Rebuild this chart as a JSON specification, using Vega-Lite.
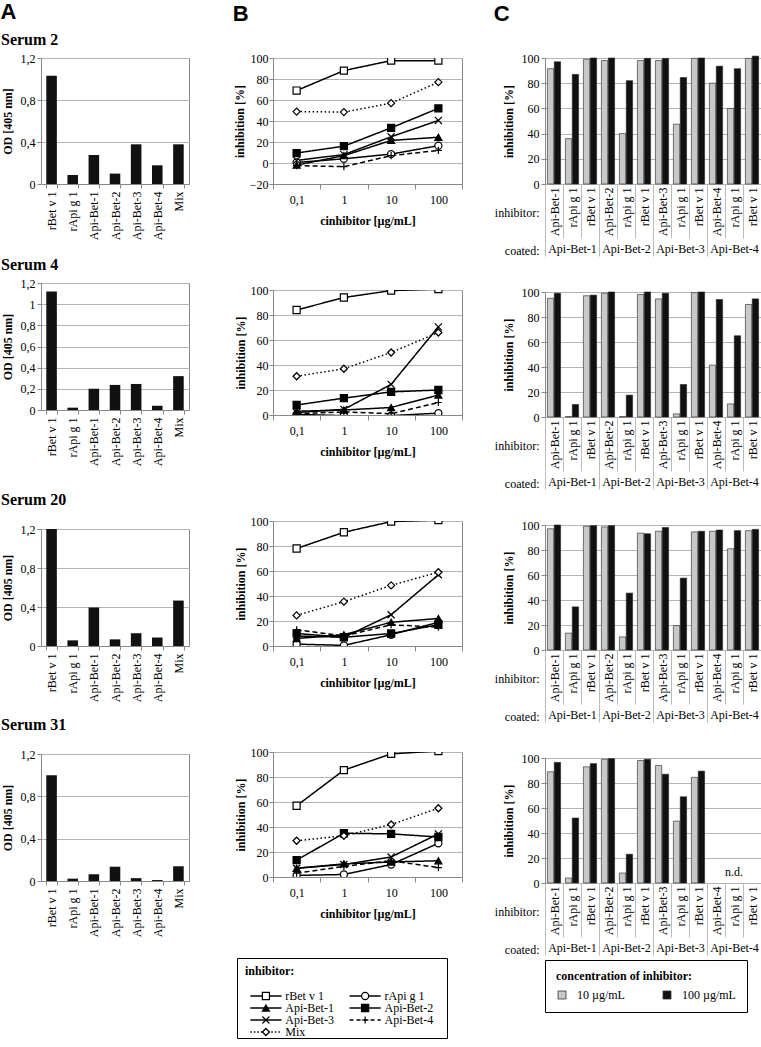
{
  "$schema": "https://vega.github.io/schema/vega-lite/v6.json",
  "padding": {"left": 0, "top": 0, "right": 0, "bottom": 0},
  "autosize": {"type": "pad"},
  "config": {
    "font": "Liberation Serif",
    "view": {"stroke": "#888", "strokeWidth": 1},
    "axis": {"labelFont": "Liberation Serif", "labelFontSize": 12, "labelColor": "#000", "titleFont": "Liberation Serif", "titleFontSize": 12, "titleFontWeight": "bold", "titleColor": "#000", "domainColor": "#888", "tickColor": "#888", "gridColor": "#b4b4b4", "tickSize": 4},
    "title": {"font": "Liberation Serif", "color": "#000"},
    "legend": {"labelFont": "Liberation Serif", "titleFont": "Liberation Serif", "labelColor": "#000", "titleColor": "#000"},
    "locale": {"number": {"decimal": ",", "thousands": ".", "grouping": [3], "currency": ["", " €"]}}
  },
  "datasets": {
    "od": [
      {"s": 2, "a": "rBet v 1", "od": 1.03}, {"s": 2, "a": "rApi g 1", "od": 0.086}, {"s": 2, "a": "Api-Bet-1", "od": 0.276}, {"s": 2, "a": "Api-Bet-2", "od": 0.099}, {"s": 2, "a": "Api-Bet-3", "od": 0.378}, {"s": 2, "a": "Api-Bet-4", "od": 0.178}, {"s": 2, "a": "Mix", "od": 0.378},
      {"s": 4, "a": "rBet v 1", "od": 1.12}, {"s": 4, "a": "rApi g 1", "od": 0.022}, {"s": 4, "a": "Api-Bet-1", "od": 0.2}, {"s": 4, "a": "Api-Bet-2", "od": 0.237}, {"s": 4, "a": "Api-Bet-3", "od": 0.246}, {"s": 4, "a": "Api-Bet-4", "od": 0.04}, {"s": 4, "a": "Mix", "od": 0.32},
      {"s": 20, "a": "rBet v 1", "od": 1.2}, {"s": 20, "a": "rApi g 1", "od": 0.058}, {"s": 20, "a": "Api-Bet-1", "od": 0.394}, {"s": 20, "a": "Api-Bet-2", "od": 0.068}, {"s": 20, "a": "Api-Bet-3", "od": 0.131}, {"s": 20, "a": "Api-Bet-4", "od": 0.087}, {"s": 20, "a": "Mix", "od": 0.466},
      {"s": 31, "a": "rBet v 1", "od": 1.0}, {"s": 31, "a": "rApi g 1", "od": 0.022}, {"s": 31, "a": "Api-Bet-1", "od": 0.063}, {"s": 31, "a": "Api-Bet-2", "od": 0.135}, {"s": 31, "a": "Api-Bet-3", "od": 0.027}, {"s": 31, "a": "Api-Bet-4", "od": 0.009}, {"s": 31, "a": "Mix", "od": 0.139}
    ],
    "inh": [
      {"s": 2, "series": "rBet v 1", "0,1": 69, "1": 88, "10": 97.5, "100": 97.5},
      {"s": 2, "series": "rApi g 1", "0,1": 0.5, "1": 4, "10": 8.5, "100": 16.5},
      {"s": 2, "series": "Api-Bet-1", "0,1": -2, "1": 7, "10": 21.5, "100": 24.5},
      {"s": 2, "series": "Api-Bet-2", "0,1": 9.5, "1": 16, "10": 33.5, "100": 52},
      {"s": 2, "series": "Api-Bet-3", "0,1": 2.5, "1": 8, "10": 25, "100": 40.5},
      {"s": 2, "series": "Api-Bet-4", "0,1": -2.5, "1": -3.5, "10": 7, "100": 12},
      {"s": 2, "series": "Mix", "0,1": 49, "1": 48.5, "10": 57, "100": 77},
      {"s": 4, "series": "rBet v 1", "0,1": 84, "1": 94, "10": 99.5, "100": 100.8},
      {"s": 4, "series": "rApi g 1", "0,1": 0.5, "1": -0.5, "10": -0.5, "100": 1.5},
      {"s": 4, "series": "Api-Bet-1", "0,1": 3, "1": 4, "10": 6, "100": 16},
      {"s": 4, "series": "Api-Bet-2", "0,1": 8, "1": 13.5, "10": 18.5, "100": 20},
      {"s": 4, "series": "Api-Bet-3", "0,1": 2, "1": 4.5, "10": 24.5, "100": 70.5},
      {"s": 4, "series": "Api-Bet-4", "0,1": 1, "1": 2.5, "10": 1, "100": 10},
      {"s": 4, "series": "Mix", "0,1": 31, "1": 37, "10": 50, "100": 66},
      {"s": 20, "series": "rBet v 1", "0,1": 78, "1": 91, "10": 99.5, "100": 100.8},
      {"s": 20, "series": "rApi g 1", "0,1": 1.5, "1": 0.5, "10": 9, "100": 19},
      {"s": 20, "series": "Api-Bet-1", "0,1": 6, "1": 9, "10": 19, "100": 22},
      {"s": 20, "series": "Api-Bet-2", "0,1": 10, "1": 7, "10": 10, "100": 17},
      {"s": 20, "series": "Api-Bet-3", "0,1": 8, "1": 7, "10": 25, "100": 57},
      {"s": 20, "series": "Api-Bet-4", "0,1": 13, "1": 8, "10": 17, "100": 15},
      {"s": 20, "series": "Mix", "0,1": 24.5, "1": 35.5, "10": 48.5, "100": 59},
      {"s": 31, "series": "rBet v 1", "0,1": 57, "1": 85.5, "10": 98.5, "100": 100.8},
      {"s": 31, "series": "rApi g 1", "0,1": 1.3, "1": 2, "10": 10, "100": 27},
      {"s": 31, "series": "Api-Bet-1", "0,1": 7, "1": 10.5, "10": 12, "100": 13},
      {"s": 31, "series": "Api-Bet-2", "0,1": 13.5, "1": 35, "10": 34.5, "100": 32},
      {"s": 31, "series": "Api-Bet-3", "0,1": 7, "1": 10, "10": 16, "100": 34.5},
      {"s": 31, "series": "Api-Bet-4", "0,1": 3, "1": 8.5, "10": 13, "100": 7.5},
      {"s": 31, "series": "Mix", "0,1": 29, "1": 33, "10": 42, "100": 55}
    ],
    "cross": [
      {"s": 2, "cell": "B1 Api-Bet-1", "10 µg/mL": 91.5, "100 µg/mL": 97},
      {"s": 2, "cell": "B1 rApi g 1", "10 µg/mL": 36, "100 µg/mL": 87},
      {"s": 2, "cell": "B1 rBet v 1", "10 µg/mL": 99, "100 µg/mL": 100},
      {"s": 2, "cell": "B2 Api-Bet-2", "10 µg/mL": 98, "100 µg/mL": 100},
      {"s": 2, "cell": "B2 rApi g 1", "10 µg/mL": 40, "100 µg/mL": 82},
      {"s": 2, "cell": "B2 rBet v 1", "10 µg/mL": 98, "100 µg/mL": 99.7},
      {"s": 2, "cell": "B3 Api-Bet-3", "10 µg/mL": 98, "100 µg/mL": 99.7},
      {"s": 2, "cell": "B3 rApi g 1", "10 µg/mL": 47.5, "100 µg/mL": 84.5},
      {"s": 2, "cell": "B3 rBet v 1", "10 µg/mL": 99.7, "100 µg/mL": 100},
      {"s": 2, "cell": "B4 Api-Bet-4", "10 µg/mL": 80, "100 µg/mL": 93.5},
      {"s": 2, "cell": "B4 rApi g 1", "10 µg/mL": 60, "100 µg/mL": 91.5},
      {"s": 2, "cell": "B4 rBet v 1", "10 µg/mL": 99.7, "100 µg/mL": 101.5},
      {"s": 4, "cell": "B1 Api-Bet-1", "10 µg/mL": 95, "100 µg/mL": 99},
      {"s": 4, "cell": "B1 rApi g 1", "10 µg/mL": 0.3, "100 µg/mL": 10},
      {"s": 4, "cell": "B1 rBet v 1", "10 µg/mL": 97, "100 µg/mL": 97.5},
      {"s": 4, "cell": "B2 Api-Bet-2", "10 µg/mL": 99, "100 µg/mL": 100},
      {"s": 4, "cell": "B2 rApi g 1", "10 µg/mL": 0.3, "100 µg/mL": 17.5},
      {"s": 4, "cell": "B2 rBet v 1", "10 µg/mL": 98, "100 µg/mL": 100},
      {"s": 4, "cell": "B3 Api-Bet-3", "10 µg/mL": 94.5, "100 µg/mL": 99},
      {"s": 4, "cell": "B3 rApi g 1", "10 µg/mL": 2.5, "100 µg/mL": 26},
      {"s": 4, "cell": "B3 rBet v 1", "10 µg/mL": 99.5, "100 µg/mL": 100},
      {"s": 4, "cell": "B4 Api-Bet-4", "10 µg/mL": 41.5, "100 µg/mL": 94},
      {"s": 4, "cell": "B4 rApi g 1", "10 µg/mL": 10.5, "100 µg/mL": 65},
      {"s": 4, "cell": "B4 rBet v 1", "10 µg/mL": 90, "100 µg/mL": 94.5},
      {"s": 20, "cell": "B1 Api-Bet-1", "10 µg/mL": 97, "100 µg/mL": 100},
      {"s": 20, "cell": "B1 rApi g 1", "10 µg/mL": 13.5, "100 µg/mL": 34.5},
      {"s": 20, "cell": "B1 rBet v 1", "10 µg/mL": 99, "100 µg/mL": 99.5},
      {"s": 20, "cell": "B2 Api-Bet-2", "10 µg/mL": 98.5, "100 µg/mL": 99.5},
      {"s": 20, "cell": "B2 rApi g 1", "10 µg/mL": 10.5, "100 µg/mL": 45.5},
      {"s": 20, "cell": "B2 rBet v 1", "10 µg/mL": 93.5, "100 µg/mL": 93},
      {"s": 20, "cell": "B3 Api-Bet-3", "10 µg/mL": 95, "100 µg/mL": 98},
      {"s": 20, "cell": "B3 rApi g 1", "10 µg/mL": 19.5, "100 µg/mL": 57.5},
      {"s": 20, "cell": "B3 rBet v 1", "10 µg/mL": 94.5, "100 µg/mL": 95},
      {"s": 20, "cell": "B4 Api-Bet-4", "10 µg/mL": 95, "100 µg/mL": 96},
      {"s": 20, "cell": "B4 rApi g 1", "10 µg/mL": 81, "100 µg/mL": 95.5},
      {"s": 20, "cell": "B4 rBet v 1", "10 µg/mL": 95.5, "100 µg/mL": 96.5},
      {"s": 31, "cell": "B1 Api-Bet-1", "10 µg/mL": 89, "100 µg/mL": 96.5},
      {"s": 31, "cell": "B1 rApi g 1", "10 µg/mL": 4, "100 µg/mL": 52},
      {"s": 31, "cell": "B1 rBet v 1", "10 µg/mL": 93, "100 µg/mL": 95.5},
      {"s": 31, "cell": "B2 Api-Bet-2", "10 µg/mL": 99, "100 µg/mL": 99.5},
      {"s": 31, "cell": "B2 rApi g 1", "10 µg/mL": 8, "100 µg/mL": 23},
      {"s": 31, "cell": "B2 rBet v 1", "10 µg/mL": 98, "100 µg/mL": 99},
      {"s": 31, "cell": "B3 Api-Bet-3", "10 µg/mL": 94, "100 µg/mL": 87},
      {"s": 31, "cell": "B3 rApi g 1", "10 µg/mL": 49.5, "100 µg/mL": 69},
      {"s": 31, "cell": "B3 rBet v 1", "10 µg/mL": 84.5, "100 µg/mL": 89.5}
    ],
    "notes": [{"s": 31, "cell": "B4 rApi g 1", "note": "n.d.", "value": 9}],
    "groups": [{"coated": "Api-Bet-1"}, {"coated": "Api-Bet-2"}, {"coated": "Api-Bet-3"}, {"coated": "Api-Bet-4"}],
    "concs": [{"conc": "10 µg/mL"}, {"conc": "100 µg/mL"}],
    "series": [{"series": "rBet v 1"}, {"series": "rApi g 1"}, {"series": "Api-Bet-1"}, {"series": "Api-Bet-2"}, {"series": "Api-Bet-3"}, {"series": "Api-Bet-4"}, {"series": "Mix"}]
  },
  "spacing": 42,
  "resolve": {"scale": {"color": "independent", "fill": "independent", "shape": "independent", "strokeDash": "independent"}},
  "hconcat": [
    {
      "title": {"text": "A", "font": "Liberation Sans", "fontSize": 22, "fontWeight": "bold", "anchor": "start", "frame": "bounds", "offset": 8},
      "spacing": 24,
      "vconcat": [
        {"spacing": 15, "vconcat": [
          {"title": {"text": "Serum 2", "anchor": "start", "frame": "bounds", "fontSize": 16, "fontWeight": "bold", "offset": 4}, "width": 148, "height": 126, "data": {"name": "od"}, "transform": [{"filter": "datum.s == 2"}], "mark": {"type": "bar", "color": "#111"},
           "encoding": {"x": {"field": "a", "type": "nominal", "scale": {"domain": ["rBet v 1", "rApi g 1", "Api-Bet-1", "Api-Bet-2", "Api-Bet-3", "Api-Bet-4", "Mix"], "paddingInner": 0.5, "paddingOuter": 0.25}, "axis": {"title": null, "labelAngle": -90, "labelAlign": "right", "labelBaseline": "middle", "tickBand": "extent", "labelPadding": 3}},
                        "y": {"field": "od", "type": "quantitative", "scale": {"domain": [0, 1.2], "nice": false}, "axis": {"title": "OD [405 nm]", "values": [0, 0.4, 0.8, 1.2], "format": ".1~f", "titlePadding": 6}}}},
          {"title": {"text": "Serum 4", "anchor": "start", "frame": "bounds", "fontSize": 16, "fontWeight": "bold", "offset": 4}, "width": 148, "height": 127, "data": {"name": "od"}, "transform": [{"filter": "datum.s == 4"}], "mark": {"type": "bar", "color": "#111"},
           "encoding": {"x": {"field": "a", "type": "nominal", "scale": {"domain": ["rBet v 1", "rApi g 1", "Api-Bet-1", "Api-Bet-2", "Api-Bet-3", "Api-Bet-4", "Mix"], "paddingInner": 0.5, "paddingOuter": 0.25}, "axis": {"title": null, "labelAngle": -90, "labelAlign": "right", "labelBaseline": "middle", "tickBand": "extent", "labelPadding": 3}},
                        "y": {"field": "od", "type": "quantitative", "scale": {"domain": [0, 1.2], "nice": false}, "axis": {"title": "OD [405 nm]", "values": [0, 0.2, 0.4, 0.6, 0.8, 1, 1.2], "format": ".1~f", "titlePadding": 6}}}}
        ]},
        {"spacing": 13, "vconcat": [
          {"title": {"text": "Serum 20", "anchor": "start", "frame": "bounds", "fontSize": 16, "fontWeight": "bold", "offset": 15}, "width": 148, "height": 117, "data": {"name": "od"}, "transform": [{"filter": "datum.s == 20"}], "mark": {"type": "bar", "color": "#111"},
           "encoding": {"x": {"field": "a", "type": "nominal", "scale": {"domain": ["rBet v 1", "rApi g 1", "Api-Bet-1", "Api-Bet-2", "Api-Bet-3", "Api-Bet-4", "Mix"], "paddingInner": 0.5, "paddingOuter": 0.25}, "axis": {"title": null, "labelAngle": -90, "labelAlign": "right", "labelBaseline": "middle", "tickBand": "extent", "labelPadding": 3}},
                        "y": {"field": "od", "type": "quantitative", "scale": {"domain": [0, 1.2], "nice": false}, "axis": {"title": "OD [405 nm]", "values": [0, 0.4, 0.8, 1.2], "format": ".1~f", "titlePadding": 6}}}},
          {"title": {"text": "Serum 31", "anchor": "start", "frame": "bounds", "fontSize": 16, "fontWeight": "bold", "offset": 15}, "width": 148, "height": 127, "data": {"name": "od"}, "transform": [{"filter": "datum.s == 31"}], "mark": {"type": "bar", "color": "#111"},
           "encoding": {"x": {"field": "a", "type": "nominal", "scale": {"domain": ["rBet v 1", "rApi g 1", "Api-Bet-1", "Api-Bet-2", "Api-Bet-3", "Api-Bet-4", "Mix"], "paddingInner": 0.5, "paddingOuter": 0.25}, "axis": {"title": null, "labelAngle": -90, "labelAlign": "right", "labelBaseline": "middle", "tickBand": "extent", "labelPadding": 3}},
                        "y": {"field": "od", "type": "quantitative", "scale": {"domain": [0, 1.2], "nice": false}, "axis": {"title": "OD [405 nm]", "values": [0, 0.4, 0.8, 1.2], "format": ".1~f", "titlePadding": 6}}}}
        ]}
      ]
    },
    {
      "spacing": 30,
      "resolve": {"scale": {"color": "independent", "fill": "independent", "shape": "independent", "strokeDash": "independent"}},
      "hconcat": [
        {
          "title": {"text": "B", "font": "Liberation Sans", "fontSize": 22, "fontWeight": "bold", "anchor": "start", "frame": "bounds", "offset": 26},
          "spacing": 56,
          "resolve": {"scale": {"fill": "independent", "shape": "independent", "strokeDash": "independent"}},
          "vconcat": [
            {"width": 189, "height": 126, "data": {"name": "inh"}, "transform": [{"filter": "datum.s == 2"}, {"fold": ["0,1", "1", "10", "100"], "as": ["c", "v"]}],
             "encoding": {"x": {"field": "c", "type": "ordinal", "bandPosition": 0.5, "scale": {"type": "band", "domain": ["0,1", "1", "10", "100"], "paddingInner": 0, "paddingOuter": 0}, "axis": {"title": "cinhibitor [µg/mL]", "labelAngle": 0, "tickBand": "extent", "tickSize": 5, "labelPadding": 5, "titlePadding": 10}},
                          "y": {"field": "v", "type": "quantitative", "scale": {"domain": [-20, 100], "nice": false}, "axis": {"title": "inhibition [%]", "values": [-20, 0, 20, 40, 60, 80, 100], "titlePadding": 3, "labelPadding": 1}}},
             "layer": [
               {"mark": {"type": "line", "color": "#000", "strokeWidth": 1.5, "clip": true}, "encoding": {"strokeDash": {"field": "series", "type": "nominal", "scale": {"domain": ["rBet v 1", "rApi g 1", "Api-Bet-1", "Api-Bet-2", "Api-Bet-3", "Api-Bet-4", "Mix"], "range": [[1, 0], [1, 0], [1, 0], [1, 0], [1, 0], [5, 3], [1.5, 2.5]]}, "legend": null}}},
               {"mark": {"type": "point", "filled": true, "stroke": "#000", "strokeWidth": 1.2, "size": 50, "opacity": 1, "clip": true}, "encoding": {"shape": {"field": "series", "type": "nominal", "scale": {"domain": ["rBet v 1", "rApi g 1", "Api-Bet-1", "Api-Bet-2", "Api-Bet-3", "Api-Bet-4", "Mix"], "range": ["square", "circle", "triangle-up", "square", "M-1,-1L1,1M-1,1L1,-1", "M-1,0H1M0,-1V1", "diamond"]}, "legend": null}, "fill": {"field": "series", "type": "nominal", "scale": {"domain": ["rBet v 1", "rApi g 1", "Api-Bet-1", "Api-Bet-2", "Api-Bet-3", "Api-Bet-4", "Mix"], "range": ["white", "white", "black", "black", "black", "black", "white"]}, "legend": null}}}
             ]},
            {"width": 189, "height": 125, "data": {"name": "inh"}, "transform": [{"filter": "datum.s == 4"}, {"fold": ["0,1", "1", "10", "100"], "as": ["c", "v"]}],
             "encoding": {"x": {"field": "c", "type": "ordinal", "bandPosition": 0.5, "scale": {"type": "band", "domain": ["0,1", "1", "10", "100"], "paddingInner": 0, "paddingOuter": 0}, "axis": {"title": "cinhibitor [µg/mL]", "labelAngle": 0, "tickBand": "extent", "tickSize": 5, "labelPadding": 5, "titlePadding": 10}},
                          "y": {"field": "v", "type": "quantitative", "scale": {"domain": [0, 100], "nice": false}, "axis": {"title": "inhibition [%]", "values": [0, 20, 40, 60, 80, 100], "titlePadding": 3, "labelPadding": 1}}},
             "layer": [
               {"mark": {"type": "line", "color": "#000", "strokeWidth": 1.5, "clip": true}, "encoding": {"strokeDash": {"field": "series", "type": "nominal", "scale": {"domain": ["rBet v 1", "rApi g 1", "Api-Bet-1", "Api-Bet-2", "Api-Bet-3", "Api-Bet-4", "Mix"], "range": [[1, 0], [1, 0], [1, 0], [1, 0], [1, 0], [5, 3], [1.5, 2.5]]}, "legend": null}}},
               {"mark": {"type": "point", "filled": true, "stroke": "#000", "strokeWidth": 1.2, "size": 50, "opacity": 1, "clip": true}, "encoding": {"shape": {"field": "series", "type": "nominal", "scale": {"domain": ["rBet v 1", "rApi g 1", "Api-Bet-1", "Api-Bet-2", "Api-Bet-3", "Api-Bet-4", "Mix"], "range": ["square", "circle", "triangle-up", "square", "M-1,-1L1,1M-1,1L1,-1", "M-1,0H1M0,-1V1", "diamond"]}, "legend": null}, "fill": {"field": "series", "type": "nominal", "scale": {"domain": ["rBet v 1", "rApi g 1", "Api-Bet-1", "Api-Bet-2", "Api-Bet-3", "Api-Bet-4", "Mix"], "range": ["white", "white", "black", "black", "black", "black", "white"]}, "legend": null}}}
             ]},
            {"width": 189, "height": 125, "data": {"name": "inh"}, "transform": [{"filter": "datum.s == 20"}, {"fold": ["0,1", "1", "10", "100"], "as": ["c", "v"]}],
             "encoding": {"x": {"field": "c", "type": "ordinal", "bandPosition": 0.5, "scale": {"type": "band", "domain": ["0,1", "1", "10", "100"], "paddingInner": 0, "paddingOuter": 0}, "axis": {"title": "cinhibitor [µg/mL]", "labelAngle": 0, "tickBand": "extent", "tickSize": 5, "labelPadding": 5, "titlePadding": 10}},
                          "y": {"field": "v", "type": "quantitative", "scale": {"domain": [0, 100], "nice": false}, "axis": {"title": "inhibition [%]", "values": [0, 20, 40, 60, 80, 100], "titlePadding": 3, "labelPadding": 1}}},
             "layer": [
               {"mark": {"type": "line", "color": "#000", "strokeWidth": 1.5, "clip": true}, "encoding": {"strokeDash": {"field": "series", "type": "nominal", "scale": {"domain": ["rBet v 1", "rApi g 1", "Api-Bet-1", "Api-Bet-2", "Api-Bet-3", "Api-Bet-4", "Mix"], "range": [[1, 0], [1, 0], [1, 0], [1, 0], [1, 0], [5, 3], [1.5, 2.5]]}, "legend": null}}},
               {"mark": {"type": "point", "filled": true, "stroke": "#000", "strokeWidth": 1.2, "size": 50, "opacity": 1, "clip": true}, "encoding": {"shape": {"field": "series", "type": "nominal", "scale": {"domain": ["rBet v 1", "rApi g 1", "Api-Bet-1", "Api-Bet-2", "Api-Bet-3", "Api-Bet-4", "Mix"], "range": ["square", "circle", "triangle-up", "square", "M-1,-1L1,1M-1,1L1,-1", "M-1,0H1M0,-1V1", "diamond"]}, "legend": null}, "fill": {"field": "series", "type": "nominal", "scale": {"domain": ["rBet v 1", "rApi g 1", "Api-Bet-1", "Api-Bet-2", "Api-Bet-3", "Api-Bet-4", "Mix"], "range": ["white", "white", "black", "black", "black", "black", "white"]}, "legend": null}}}
             ]},
            {
              "spacing": 35,
              "resolve": {"scale": {"fill": "independent", "shape": "independent", "strokeDash": "independent"}},
              "vconcat": [
                {"width": 189, "height": 125, "data": {"name": "inh"}, "transform": [{"filter": "datum.s == 31"}, {"fold": ["0,1", "1", "10", "100"], "as": ["c", "v"]}],
                 "encoding": {"x": {"field": "c", "type": "ordinal", "bandPosition": 0.5, "scale": {"type": "band", "domain": ["0,1", "1", "10", "100"], "paddingInner": 0, "paddingOuter": 0}, "axis": {"title": "cinhibitor [µg/mL]", "labelAngle": 0, "tickBand": "extent", "tickSize": 5, "labelPadding": 5, "titlePadding": 10}},
                              "y": {"field": "v", "type": "quantitative", "scale": {"domain": [0, 100], "nice": false}, "axis": {"title": "inhibition [%]", "values": [0, 20, 40, 60, 80, 100], "titlePadding": 3, "labelPadding": 1}}},
                 "layer": [
                   {"mark": {"type": "line", "color": "#000", "strokeWidth": 1.5, "clip": true}, "encoding": {"strokeDash": {"field": "series", "type": "nominal", "scale": {"domain": ["rBet v 1", "rApi g 1", "Api-Bet-1", "Api-Bet-2", "Api-Bet-3", "Api-Bet-4", "Mix"], "range": [[1, 0], [1, 0], [1, 0], [1, 0], [1, 0], [5, 3], [1.5, 2.5]]}, "legend": null}}},
                   {"mark": {"type": "point", "filled": true, "stroke": "#000", "strokeWidth": 1.2, "size": 50, "opacity": 1, "clip": true}, "encoding": {"shape": {"field": "series", "type": "nominal", "scale": {"domain": ["rBet v 1", "rApi g 1", "Api-Bet-1", "Api-Bet-2", "Api-Bet-3", "Api-Bet-4", "Mix"], "range": ["square", "circle", "triangle-up", "square", "M-1,-1L1,1M-1,1L1,-1", "M-1,0H1M0,-1V1", "diamond"]}, "legend": null}, "fill": {"field": "series", "type": "nominal", "scale": {"domain": ["rBet v 1", "rApi g 1", "Api-Bet-1", "Api-Bet-2", "Api-Bet-3", "Api-Bet-4", "Mix"], "range": ["white", "white", "black", "black", "black", "black", "white"]}, "legend": null}}}
                 ]},
                {"bounds": "flush", "spacing": 31,
                 "resolve": {"scale": {"fill": "independent", "shape": "independent", "strokeDash": "independent"}},
                 "vconcat": [
                  {"width": 189, "height": 1, "view": {"stroke": "transparent"}, "data": {"name": "series"}, "mark": {"type": "point", "opacity": 0},
                   "encoding": {
                     "shape": {"field": "series", "type": "nominal",
                       "scale": {"domain": ["rBet v 1", "rApi g 1", "Api-Bet-1", "Api-Bet-2", "Api-Bet-3", "Api-Bet-4", "Mix"], "range": ["square", "circle", "triangle-up", "square", "cross", "cross", "diamond"]},
                       "legend": {"title": "inhibitor:", "orient": "none", "legendX": -36, "legendY": 0, "direction": "horizontal", "columns": 2, "symbolSize": 49, "symbolOffset": 13, "labelOffset": 15, "symbolOpacity": 0, "labelColor": "transparent", "labelFontSize": 12, "titleFontSize": 12, "titleFontWeight": "bold", "strokeColor": "#000", "fillColor": "#fff", "padding": 8, "columnPadding": 16, "rowPadding": -3, "titlePadding": 4}}
                   }},
                  {"width": 189, "height": 48, "view": {"stroke": null},
                   "resolve": {"scale": {"y": "independent"}},
                   "layer": [
                     {"data": {"name": "series"}, "transform": [{"filter": {"field": "series", "oneOf": ["rBet v 1", "Api-Bet-1", "Api-Bet-3", "Mix"]}}],
                      "encoding": {"y": {"field": "series", "type": "nominal", "bandPosition": 0.5, "scale": {"domain": ["rBet v 1", "Api-Bet-1", "Api-Bet-3", "Mix"], "paddingInner": 0, "paddingOuter": 0}, "axis": null}},
                      "layer": [
                        {"mark": {"type": "rule", "color": "#000", "strokeWidth": 1.3},
                         "encoding": {"x": {"datum": -24, "type": "quantitative", "scale": {"domain": [0, 189]}, "axis": null}, "x2": {"datum": 9},
                                      "strokeDash": {"field": "series", "type": "nominal", "scale": {"domain": ["rBet v 1", "rApi g 1", "Api-Bet-1", "Api-Bet-2", "Api-Bet-3", "Api-Bet-4", "Mix"], "range": [[1, 0], [1, 0], [1, 0], [1, 0], [1, 0], [4, 3], [1.5, 2]]}, "legend": null}}},
                        {"mark": {"type": "point", "filled": true, "stroke": "#000", "strokeWidth": 1.2, "size": 50, "opacity": 1},
                         "encoding": {"x": {"datum": -7.5, "type": "quantitative"},
                                      "shape": {"field": "series", "type": "nominal", "scale": {"domain": ["rBet v 1", "rApi g 1", "Api-Bet-1", "Api-Bet-2", "Api-Bet-3", "Api-Bet-4", "Mix"], "range": ["square", "circle", "triangle-up", "square", "M-1,-1L1,1M-1,1L1,-1", "M-1,0H1M0,-1V1", "diamond"]}, "legend": null},
                                      "fill": {"field": "series", "type": "nominal", "scale": {"domain": ["rBet v 1", "rApi g 1", "Api-Bet-1", "Api-Bet-2", "Api-Bet-3", "Api-Bet-4", "Mix"], "range": ["white", "white", "black", "black", "black", "black", "white"]}, "legend": null}}},
                        {"mark": {"type": "text", "align": "left", "baseline": "middle", "fontSize": 12, "font": "Liberation Serif", "color": "#000"},
                         "encoding": {"x": {"datum": 13, "type": "quantitative"}, "text": {"field": "series"}}}
                      ]},
                     {"data": {"name": "series"}, "transform": [{"filter": {"field": "series", "oneOf": ["rApi g 1", "Api-Bet-2", "Api-Bet-4"]}}],
                      "encoding": {"y": {"field": "series", "type": "nominal", "bandPosition": 0.5, "scale": {"domain": ["rApi g 1", "Api-Bet-2", "Api-Bet-4", " "], "paddingInner": 0, "paddingOuter": 0}, "axis": null}},
                      "layer": [
                        {"mark": {"type": "rule", "color": "#000", "strokeWidth": 1.3},
                         "encoding": {"x": {"datum": 81, "type": "quantitative"}, "x2": {"datum": 114},
                                      "strokeDash": {"field": "series", "type": "nominal", "scale": {"domain": ["rBet v 1", "rApi g 1", "Api-Bet-1", "Api-Bet-2", "Api-Bet-3", "Api-Bet-4", "Mix"], "range": [[1, 0], [1, 0], [1, 0], [1, 0], [1, 0], [4, 3], [1.5, 2]]}, "legend": null}}},
                        {"mark": {"type": "point", "filled": true, "stroke": "#000", "strokeWidth": 1.2, "size": 50, "opacity": 1},
                         "encoding": {"x": {"datum": 97.5, "type": "quantitative"},
                                      "shape": {"field": "series", "type": "nominal", "scale": {"domain": ["rBet v 1", "rApi g 1", "Api-Bet-1", "Api-Bet-2", "Api-Bet-3", "Api-Bet-4", "Mix"], "range": ["square", "circle", "triangle-up", "square", "M-1,-1L1,1M-1,1L1,-1", "M-1,0H1M0,-1V1", "diamond"]}, "legend": null},
                                      "fill": {"field": "series", "type": "nominal", "scale": {"domain": ["rBet v 1", "rApi g 1", "Api-Bet-1", "Api-Bet-2", "Api-Bet-3", "Api-Bet-4", "Mix"], "range": ["white", "white", "black", "black", "black", "black", "white"]}, "legend": null}}},
                        {"mark": {"type": "text", "align": "left", "baseline": "middle", "fontSize": 12, "font": "Liberation Serif", "color": "#000"},
                         "encoding": {"x": {"datum": 118, "type": "quantitative"}, "text": {"field": "series"}}}
                      ]}
                   ]}
                 ]}
              ]
            }
          ]
        },
        {
          "title": {"text": "C", "font": "Liberation Sans", "fontSize": 22, "fontWeight": "bold", "anchor": "start", "frame": "bounds", "offset": 26},
          "spacing": 28,
          "resolve": {"scale": {"color": "independent"}},
          "vconcat": [
            {"bounds": "flush", "spacing": 53, "resolve": {"scale": {"color": "independent"}}, "vconcat": [
              {"width": 216, "height": 126, "data": {"name": "cross"}, "transform": [{"filter": "datum.s == 2"}, {"fold": ["10 µg/mL", "100 µg/mL"], "as": ["conc", "value"]}],
               "mark": {"type": "bar", "stroke": "#222", "strokeWidth": 0.6},
               "encoding": {
                 "x": {"field": "cell", "type": "nominal", "scale": {"domain": ["B1 Api-Bet-1", "B1 rApi g 1", "B1 rBet v 1", "B2 Api-Bet-2", "B2 rApi g 1", "B2 rBet v 1", "B3 Api-Bet-3", "B3 rApi g 1", "B3 rBet v 1", "B4 Api-Bet-4", "B4 rApi g 1", "B4 rBet v 1"], "paddingInner": 0, "paddingOuter": 0},
                       "axis": {"title": "inhibitor:", "titleAngle": 0, "titleX": -6, "titleY": 28, "titleAlign": "right", "titleBaseline": "middle", "titleFontWeight": "normal", "labelExpr": "substring(datum.label, 3)", "labelAngle": -90, "labelAlign": "right", "labelBaseline": "middle", "tickBand": "extent", "tickSize": 54, "tickColor": "#bbb", "domain": false, "labelPadding": -51}},
                 "xOffset": {"field": "conc", "type": "nominal", "scale": {"domain": ["10 µg/mL", "100 µg/mL"], "paddingInner": 0.08, "paddingOuter": 0.35}},
                 "y": {"field": "value", "type": "quantitative", "scale": {"domain": [0, 100], "nice": false}, "axis": {"title": "inhibition [%]", "values": [0, 20, 40, 60, 80, 100], "titlePadding": 6}},
                 "color": {"field": "conc", "type": "nominal", "scale": {"domain": ["10 µg/mL", "100 µg/mL"], "range": ["#c8c8c8", "#111"]}, "legend": null}
               }},
              {"width": 216, "height": 1, "view": {"stroke": null}, "data": {"name": "groups"}, "mark": {"type": "text", "text": ""},
               "encoding": {"x": {"field": "coated", "type": "nominal", "scale": {"domain": ["Api-Bet-1", "Api-Bet-2", "Api-Bet-3", "Api-Bet-4"], "paddingInner": 0, "paddingOuter": 0},
                 "axis": {"orient": "bottom", "title": "coated:", "titleAngle": 0, "titleX": -6, "titleY": 12, "titleAlign": "right", "titleBaseline": "middle", "titleFontWeight": "normal", "labelAngle": 0, "tickBand": "extent", "tickSize": 18, "tickColor": "#bbb", "domain": false, "labelPadding": -13}}}}
            ]},
            {"bounds": "flush", "spacing": 53, "resolve": {"scale": {"color": "independent"}}, "vconcat": [
              {"width": 216, "height": 125, "data": {"name": "cross"}, "transform": [{"filter": "datum.s == 4"}, {"fold": ["10 µg/mL", "100 µg/mL"], "as": ["conc", "value"]}],
               "mark": {"type": "bar", "stroke": "#222", "strokeWidth": 0.6},
               "encoding": {
                 "x": {"field": "cell", "type": "nominal", "scale": {"domain": ["B1 Api-Bet-1", "B1 rApi g 1", "B1 rBet v 1", "B2 Api-Bet-2", "B2 rApi g 1", "B2 rBet v 1", "B3 Api-Bet-3", "B3 rApi g 1", "B3 rBet v 1", "B4 Api-Bet-4", "B4 rApi g 1", "B4 rBet v 1"], "paddingInner": 0, "paddingOuter": 0},
                       "axis": {"title": "inhibitor:", "titleAngle": 0, "titleX": -6, "titleY": 28, "titleAlign": "right", "titleBaseline": "middle", "titleFontWeight": "normal", "labelExpr": "substring(datum.label, 3)", "labelAngle": -90, "labelAlign": "right", "labelBaseline": "middle", "tickBand": "extent", "tickSize": 54, "tickColor": "#bbb", "domain": false, "labelPadding": -51}},
                 "xOffset": {"field": "conc", "type": "nominal", "scale": {"domain": ["10 µg/mL", "100 µg/mL"], "paddingInner": 0.08, "paddingOuter": 0.35}},
                 "y": {"field": "value", "type": "quantitative", "scale": {"domain": [0, 100], "nice": false}, "axis": {"title": "inhibition [%]", "values": [0, 20, 40, 60, 80, 100], "titlePadding": 6}},
                 "color": {"field": "conc", "type": "nominal", "scale": {"domain": ["10 µg/mL", "100 µg/mL"], "range": ["#c8c8c8", "#111"]}, "legend": null}
               }},
              {"width": 216, "height": 1, "view": {"stroke": null}, "data": {"name": "groups"}, "mark": {"type": "text", "text": ""},
               "encoding": {"x": {"field": "coated", "type": "nominal", "scale": {"domain": ["Api-Bet-1", "Api-Bet-2", "Api-Bet-3", "Api-Bet-4"], "paddingInner": 0, "paddingOuter": 0},
                 "axis": {"orient": "bottom", "title": "coated:", "titleAngle": 0, "titleX": -6, "titleY": 12, "titleAlign": "right", "titleBaseline": "middle", "titleFontWeight": "normal", "labelAngle": 0, "tickBand": "extent", "tickSize": 18, "tickColor": "#bbb", "domain": false, "labelPadding": -13}}}}
            ]},
            {"bounds": "flush", "spacing": 53, "resolve": {"scale": {"color": "independent"}}, "vconcat": [
              {"width": 216, "height": 125, "data": {"name": "cross"}, "transform": [{"filter": "datum.s == 20"}, {"fold": ["10 µg/mL", "100 µg/mL"], "as": ["conc", "value"]}],
               "mark": {"type": "bar", "stroke": "#222", "strokeWidth": 0.6},
               "encoding": {
                 "x": {"field": "cell", "type": "nominal", "scale": {"domain": ["B1 Api-Bet-1", "B1 rApi g 1", "B1 rBet v 1", "B2 Api-Bet-2", "B2 rApi g 1", "B2 rBet v 1", "B3 Api-Bet-3", "B3 rApi g 1", "B3 rBet v 1", "B4 Api-Bet-4", "B4 rApi g 1", "B4 rBet v 1"], "paddingInner": 0, "paddingOuter": 0},
                       "axis": {"title": "inhibitor:", "titleAngle": 0, "titleX": -6, "titleY": 28, "titleAlign": "right", "titleBaseline": "middle", "titleFontWeight": "normal", "labelExpr": "substring(datum.label, 3)", "labelAngle": -90, "labelAlign": "right", "labelBaseline": "middle", "tickBand": "extent", "tickSize": 54, "tickColor": "#bbb", "domain": false, "labelPadding": -51}},
                 "xOffset": {"field": "conc", "type": "nominal", "scale": {"domain": ["10 µg/mL", "100 µg/mL"], "paddingInner": 0.08, "paddingOuter": 0.35}},
                 "y": {"field": "value", "type": "quantitative", "scale": {"domain": [0, 100], "nice": false}, "axis": {"title": "inhibition [%]", "values": [0, 20, 40, 60, 80, 100], "titlePadding": 6}},
                 "color": {"field": "conc", "type": "nominal", "scale": {"domain": ["10 µg/mL", "100 µg/mL"], "range": ["#c8c8c8", "#111"]}, "legend": null}
               }},
              {"width": 216, "height": 1, "view": {"stroke": null}, "data": {"name": "groups"}, "mark": {"type": "text", "text": ""},
               "encoding": {"x": {"field": "coated", "type": "nominal", "scale": {"domain": ["Api-Bet-1", "Api-Bet-2", "Api-Bet-3", "Api-Bet-4"], "paddingInner": 0, "paddingOuter": 0},
                 "axis": {"orient": "bottom", "title": "coated:", "titleAngle": 0, "titleX": -6, "titleY": 12, "titleAlign": "right", "titleBaseline": "middle", "titleFontWeight": "normal", "labelAngle": 0, "tickBand": "extent", "tickSize": 18, "tickColor": "#bbb", "domain": false, "labelPadding": -13}}}}
            ]},
            {"spacing": 1, "resolve": {"scale": {"color": "independent"}}, "vconcat": [
              {"bounds": "flush", "spacing": 53, "resolve": {"scale": {"color": "independent"}}, "vconcat": [
                {"width": 216, "height": 125,
                 "encoding": {
                   "x": {"field": "cell", "type": "nominal", "scale": {"domain": ["B1 Api-Bet-1", "B1 rApi g 1", "B1 rBet v 1", "B2 Api-Bet-2", "B2 rApi g 1", "B2 rBet v 1", "B3 Api-Bet-3", "B3 rApi g 1", "B3 rBet v 1", "B4 Api-Bet-4", "B4 rApi g 1", "B4 rBet v 1"], "paddingInner": 0, "paddingOuter": 0},
                         "axis": {"title": "inhibitor:", "titleAngle": 0, "titleX": -6, "titleY": 28, "titleAlign": "right", "titleBaseline": "middle", "titleFontWeight": "normal", "labelExpr": "substring(datum.label, 3)", "labelAngle": -90, "labelAlign": "right", "labelBaseline": "middle", "tickBand": "extent", "tickSize": 54, "tickColor": "#bbb", "domain": false, "labelPadding": -51}},
                   "y": {"field": "value", "type": "quantitative", "scale": {"domain": [0, 100], "nice": false}, "axis": {"title": "inhibition [%]", "values": [0, 20, 40, 60, 80, 100], "titlePadding": 6}}
                 },
                 "layer": [
                   {"data": {"name": "cross"}, "transform": [{"filter": "datum.s == 31"}, {"fold": ["10 µg/mL", "100 µg/mL"], "as": ["conc", "value"]}],
                    "mark": {"type": "bar", "stroke": "#222", "strokeWidth": 0.6},
                    "encoding": {
                      "xOffset": {"field": "conc", "type": "nominal", "scale": {"domain": ["10 µg/mL", "100 µg/mL"], "paddingInner": 0.08, "paddingOuter": 0.35}},
                      "color": {"field": "conc", "type": "nominal", "scale": {"domain": ["10 µg/mL", "100 µg/mL"], "range": ["#c8c8c8", "#111"]}, "legend": null}
                    }},
                   {"data": {"name": "notes"}, "transform": [{"filter": "datum.s == 31"}],
                    "mark": {"type": "text", "fontSize": 12, "font": "Liberation Serif", "color": "#000"},
                    "encoding": {"text": {"field": "note"}}}
                 ]},
                {"width": 216, "height": 1, "view": {"stroke": null}, "data": {"name": "groups"}, "mark": {"type": "text", "text": ""},
                 "encoding": {"x": {"field": "coated", "type": "nominal", "scale": {"domain": ["Api-Bet-1", "Api-Bet-2", "Api-Bet-3", "Api-Bet-4"], "paddingInner": 0, "paddingOuter": 0},
                   "axis": {"orient": "bottom", "title": "coated:", "titleAngle": 0, "titleX": -6, "titleY": 12, "titleAlign": "right", "titleBaseline": "middle", "titleFontWeight": "normal", "labelAngle": 0, "tickBand": "extent", "tickSize": 18, "tickColor": "#bbb", "domain": false, "labelPadding": -13}}}}
              ]},
              {"width": 216, "height": 1, "view": {"stroke": "transparent"}, "data": {"name": "concs"}, "mark": {"type": "square", "opacity": 0, "stroke": "#333", "strokeWidth": 0.8},
               "encoding": {"color": {"field": "conc", "type": "nominal", "scale": {"domain": ["10 µg/mL", "100 µg/mL"], "range": ["#c8c8c8", "#111"]},
                 "legend": {"title": "concentration of inhibitor:", "orient": "none", "legendX": 0, "legendY": 0, "direction": "horizontal", "symbolType": "square", "symbolSize": 64, "symbolStrokeColor": "#333", "symbolStrokeWidth": 0.8, "symbolOpacity": 1, "labelFontSize": 12, "titleFontSize": 12, "titleFontWeight": "bold", "strokeColor": "#000", "fillColor": "#fff", "padding": 11, "columnPadding": 36, "labelOffset": 9, "titlePadding": 6}}}}
            ]}
          ]
        }
      ]
    }
  ]
}
